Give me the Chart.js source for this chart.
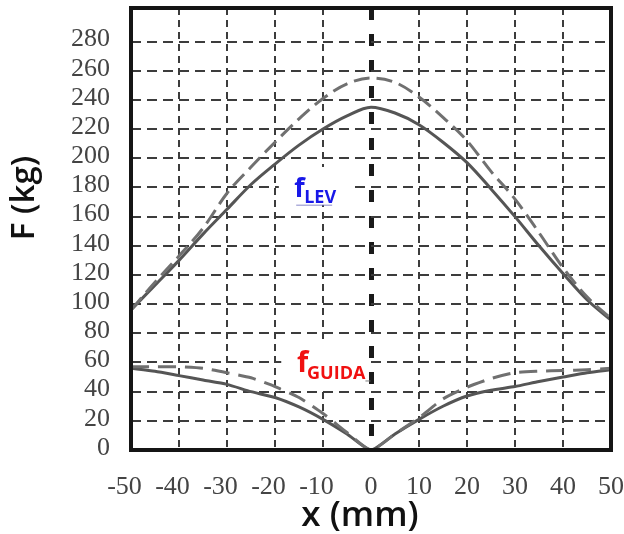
<!DOCTYPE html>
<html>
<head>
<meta charset="utf-8">
<script src="https://cdn.jsdelivr.net/npm/chart.js@4/dist/chart.umd.min.js"></script>
<style>
  html, body { margin: 0; padding: 0; background: #fff; }
  #wrap { width: 624px; height: 534px; }
</style>
</head>
<body>
<div id="wrap"><canvas id="c" width="624" height="534"></canvas></div>
<script>
// Displacement x (mm)
const X_MM = [-50, -45, -40, -35, -30, -25, -20, -15, -10, -5, 0, 5, 10, 15, 20, 25, 30, 35, 40, 45, 50];

// Levitation force (kg): solid and dashed curves
const F_LEV_SOLID  = [96, 113, 130, 148, 165, 182, 196, 209, 220, 229, 235, 231, 223, 211, 197, 179, 160, 140, 121, 103, 89];
const F_LEV_DASHED = [96, 115, 133, 152, 176, 194, 211, 227, 241, 251, 255, 252, 242, 228, 212, 191, 172, 149, 125, 105, 90];

// Guidance force (kg): solid and dashed curves
const F_GUIDA_SOLID  = [56, 54, 51, 48, 45, 40, 36, 29.5, 21, 11, 0, 11, 21, 30, 37, 41, 43.5, 47, 50, 53, 55];
const F_GUIDA_DASHED = [57, 57, 57, 56, 53, 49.5, 43.5, 36, 25, 12, 0, 11, 22, 35, 43, 49, 53, 54, 54.5, 55, 56];

// Axis ticks
const Y_TICKS = [0, 20, 40, 60, 80, 100, 120, 140, 160, 180, 200, 220, 240, 260, 280];
const X_TICK_STEP = 10;

const pts = (ys) => X_MM.map((x, i) => ({ x: x, y: ys[i] }));

const TICK_FONT = { family: '"Liberation Serif", serif', size: 26 };
const TICK_COLOR = '#444';

// Frame around the plotting area
const framePlugin = {
  id: 'frame',
  afterDraw(chart) {
    const { ctx, chartArea: a } = chart;
    ctx.save();
    ctx.strokeStyle = '#151515';
    ctx.lineWidth = 4;
    ctx.strokeRect(a.left, a.top, a.right - a.left, a.bottom - a.top);
    ctx.restore();
  }
};

// Curve tags (f_LEV, f_GUIDA) on white patches
const TAGS = [
  { sub: 'LEV',   color: '#1818e8', box: [-19.2, 194, -4.2, 168], x: -16.0, y: 173.6, main: 27, size: 18, dx: 10, drop: 6,
    underline: 'rgba(110,110,190,0.55)' },
  { sub: 'GUIDA', color: '#f01010', box: [-18.7, 74, -0.7, 42.5], x: -15.4, y: 53.5, main: 29, size: 18, dx: 10, drop: 7,
    underline: null }
];

const tagPlugin = {
  id: 'tags',
  afterDatasetsDraw(chart) {
    const { ctx, scales: { x, y } } = chart;
    ctx.save();
    TAGS.forEach(t => {
      const x0 = x.getPixelForValue(t.box[0]), y0 = y.getPixelForValue(t.box[1]);
      const x1 = x.getPixelForValue(t.box[2]), y1 = y.getPixelForValue(t.box[3]);
      ctx.fillStyle = '#fff';
      ctx.fillRect(x0, y0, x1 - x0, y1 - y0);
      const px = x.getPixelForValue(t.x), py = y.getPixelForValue(t.y);
      ctx.fillStyle = t.color;
      ctx.textAlign = 'left';
      ctx.textBaseline = 'alphabetic';
      ctx.font = '700 ' + t.main + 'px "Open Sans", sans-serif';
      ctx.fillText('f', px, py);
      ctx.font = '700 ' + t.size + 'px "Open Sans", sans-serif';
      ctx.fillText(t.sub, px + t.dx, py + t.drop);
      const w = ctx.measureText(t.sub).width;
      if (t.underline) {
        ctx.strokeStyle = t.underline;
        ctx.lineWidth = 1.5;
        ctx.beginPath();
        ctx.moveTo(px + 2, py + t.drop + 2.5);
        ctx.lineTo(px + t.dx + w - 4, py + t.drop + 2.5);
        ctx.stroke();
      } else {
        ctx.strokeStyle = 'rgba(120,120,120,0.8)';
        ctx.lineWidth = 1.2;
        ctx.beginPath();
        ctx.moveTo(px + t.dx + w, py + t.drop + 2);
        ctx.lineTo(px + t.dx + w + 5, py + t.drop + 2);
        ctx.stroke();
      }
    });
    ctx.restore();
  }
};

// Axis titles
const titlePlugin = {
  id: 'axisTitles',
  afterDraw(chart) {
    const { ctx } = chart;
    ctx.save();
    ctx.fillStyle = '#111';
    ctx.textAlign = 'center';
    ctx.textBaseline = 'alphabetic';
    ctx.font = '600 35px "Open Sans", sans-serif';
    ctx.fillText('x (mm)', 360, 526);
    ctx.translate(34, 198);
    ctx.rotate(-Math.PI / 2);
    ctx.font = '600 33px "Open Sans", sans-serif';
    ctx.fillText('F (kg)', 0, 0);
    ctx.restore();
  }
};

const isZero = (c) => c.tick && c.tick.value === 0;

new Chart(document.getElementById('c'), {
  type: 'line',
  data: {
    datasets: [
      { label: 'fLEV', data: pts(F_LEV_DASHED), borderColor: '#707070', borderWidth: 3,
        borderDash: [16, 7], cubicInterpolationMode: 'monotone', pointRadius: 0 },
      { label: 'fLEV', data: pts(F_LEV_SOLID), borderColor: '#555', borderWidth: 3,
        cubicInterpolationMode: 'monotone', pointRadius: 0 },
      { label: 'fGUIDA', data: pts(F_GUIDA_DASHED), borderColor: '#707070', borderWidth: 3,
        borderDash: [18, 9], tension: 0.2, pointRadius: 0 },
      { label: 'fGUIDA', data: pts(F_GUIDA_SOLID), borderColor: '#555', borderWidth: 3,
        tension: 0.2, pointRadius: 0 }
    ]
  },
  options: {
    responsive: false,
    animation: false,
    devicePixelRatio: 1,
    layout: { padding: { top: 8, right: 13, left: 0, bottom: 0 } },
    plugins: { legend: { display: false }, tooltip: { enabled: false }, title: { display: false } },
    scales: {
      x: {
        type: 'linear', min: -50, max: 50,
        afterFit: (s) => { s.height = 84; s.paddingLeft = 0; s.paddingRight = 0; },
        ticks: {
          stepSize: X_TICK_STEP, autoSkip: false, maxRotation: 0, padding: 22,
          font: TICK_FONT, color: TICK_COLOR,
          callback: (v) => (v < 0 ? v + '\u2007' : String(v))
        },
        grid: {
          drawTicks: false,
          color: (c) => (isZero(c) ? '#1a1a1a' : '#3c3c3c'),
          lineWidth: (c) => (isZero(c) ? 5 : 2)
        },
        border: { display: false, dash: (c) => (isZero(c) ? [12, 14] : [7, 5]) }
      },
      y: {
        type: 'linear', min: 0, max: 303,
        afterBuildTicks: (s) => { s.ticks = Y_TICKS.map(v => ({ value: v })); },
        afterFit: (s) => { s.width = 131; s.paddingTop = 0; s.paddingBottom = 0; },
        ticks: { autoSkip: false, padding: 21, labelOffset: -2, font: TICK_FONT, color: TICK_COLOR },
        grid: { drawTicks: false, color: '#3c3c3c', lineWidth: 2 },
        border: { display: false, dash: [10, 6] }
      }
    }
  },
  plugins: [tagPlugin, framePlugin, titlePlugin]
});
</script>
</body>
</html>
